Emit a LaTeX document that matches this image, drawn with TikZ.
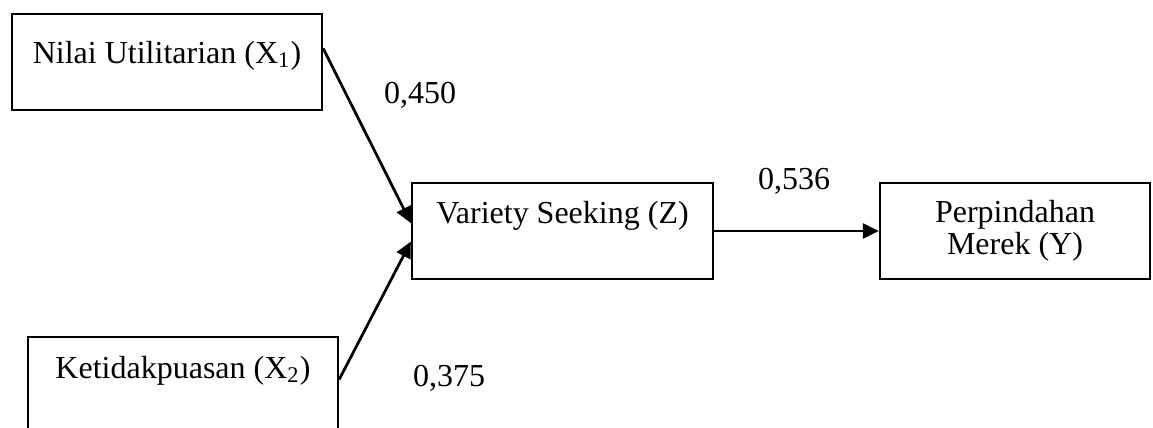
\documentclass[tikz,border=0pt]{standalone}
\usepackage{fontspec}
\setmainfont{Liberation Serif}
\usetikzlibrary{arrows.meta}

\begin{document}
\begin{tikzpicture}[x=0.4pt, y=-0.4pt,
	kotak/.style={draw, line width=0.9pt, inner sep=0pt, font=\fontsize{12.8}{12.8}\selectfont},
	koef/.style={inner sep=0pt, font=\fontsize{12.8}{14}\selectfont},
	panah/.style={line width=1.1pt, -{Triangle[length=6.4pt,width=6pt]}}]
			\useasboundingbox (0,0) rectangle (1153,427);
			\node[kotak, minimum width=124pt, text height=19.6pt, text depth=18.8pt] (x1) at (167,62) {Nilai Utilitarian (X\textsubscript{1})};
			\node[kotak, minimum width=124pt, text height=16.4pt, text depth=22pt] (x2) at (183,385) {Ketidakpuasan (X\textsubscript{2})};
			\node[kotak, minimum width=120.4pt, text height=16pt, text depth=22.4pt] (z) at (562.5,231) {Variety Seeking (Z)};
			\node[kotak, minimum width=108pt, minimum height=38.4pt, align=center] (y) at (1015,231) {Perpindahan\\Merek (Y)};
			\draw[panah] (x1.5.5) -- (z.177.7);
			\draw[panah] (x2.2.6) -- (z.184.6);
			\draw[panah] (z.east) -- (y.west);
			\node[koef] (b1) at (420,95) {0,450};
			\node[koef] (b2) at (449,378) {0,375};
			\node[koef] (b3) at (794,181) {0,536};
		\end{tikzpicture}
\end{document}
